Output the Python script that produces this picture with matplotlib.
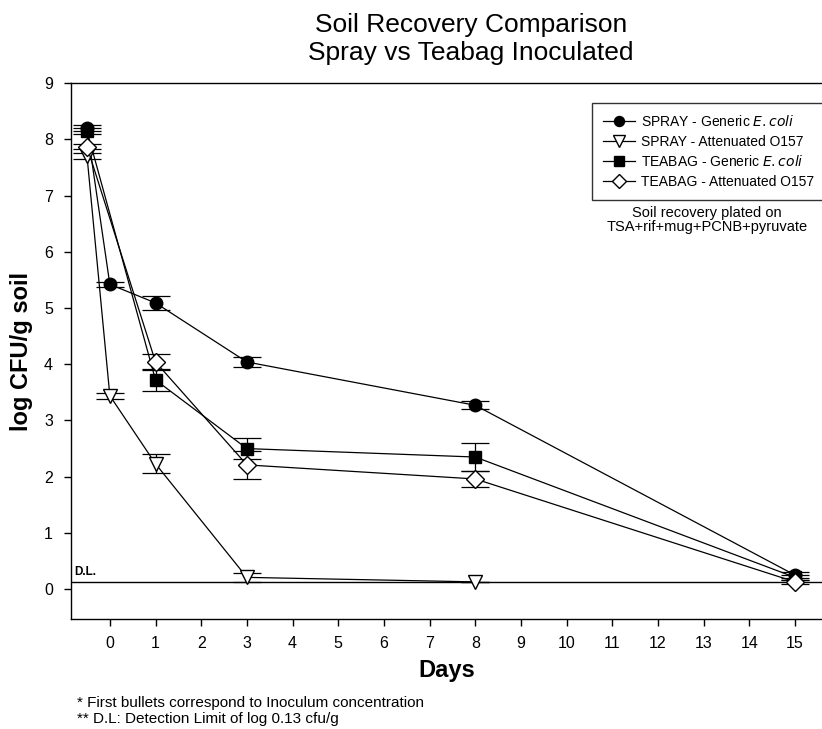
import matplotlib
matplotlib.use("Agg")
import matplotlib.pyplot as plt
from matplotlib.lines import Line2D

plt.rcParams['font.family'] = ['Liberation Sans', 'DejaVu Sans']

# Data
days_sg = [-0.5, 0, 1, 3, 8, 15]
spray_generic = [8.20, 5.42, 5.09, 4.04, 3.27, 0.25]
spray_generic_err = [0.05, 0.04, 0.12, 0.09, 0.07, 0.05]

days_sa = [-0.5, 0, 1, 3, 8]
spray_atten = [7.70, 3.44, 2.23, 0.21, 0.13]
spray_atten_err = [0.05, 0.05, 0.17, 0.08, 0.0]

days_tg = [-0.5, 1, 3, 8, 15]
teabag_generic = [8.15, 3.72, 2.50, 2.35, 0.21]
teabag_generic_err = [0.05, 0.19, 0.19, 0.25, 0.04]

days_ta = [-0.5, 1, 3, 8, 15]
teabag_atten = [7.87, 4.04, 2.21, 1.96, 0.13]
teabag_atten_err = [0.05, 0.14, 0.25, 0.15, 0.04]

detection_limit = 0.13
x_ticks = list(range(0, 16))
y_ticks = list(range(0, 10))

series = [
    (days_sg, spray_generic, spray_generic_err, 'o', 'black', 9, 'SPRAY - Generic $\\it{E. coli}$'),
    (days_sa, spray_atten, spray_atten_err, 'v', 'white', 10, 'SPRAY - Attenuated O157'),
    (days_tg, teabag_generic, teabag_generic_err, 's', 'black', 9, 'TEABAG - Generic $\\it{E. coli}$'),
    (days_ta, teabag_atten, teabag_atten_err, 'D', 'white', 9, 'TEABAG - Attenuated O157'),
]

fig = plt.figure(figsize=(8.22, 7.29), dpi=100)
ax = fig.add_axes([0.0864, 0.1509, 0.9136, 0.7352])
ax.set_xlim(-0.85, 15.59)
ax.set_ylim(-0.53, 9)

ax.axhline(detection_limit, color='black', lw=1.0, zorder=1)

handles = []
for x, y, e, m, fc, ms, lab in series:
    ax.errorbar(x, y, yerr=e, fmt='-', marker=m, color='black', mfc=fc, mec='black',
                ms=ms, lw=0.9, elinewidth=0.9, capsize=10, capthick=0.9, zorder=3)
    handles.append(Line2D([0], [0], color='black', marker=m, mfc=fc, mec='black',
                          ms=ms * 0.8, lw=0.9, label=lab))

ax.text(-0.78, 0.2, 'D.L.', fontsize=8.5, fontweight='bold', ha='left', va='bottom')

ax.set_xticks(x_ticks)
ax.set_yticks(y_ticks)
ax.tick_params(axis='both', direction='out', length=5, width=1, labelsize=11.5)
ax.tick_params(axis='x', pad=7)
ax.tick_params(axis='y', pad=8)
ax.spines['right'].set_visible(False)
for s in ['left', 'top', 'bottom']:
    ax.spines[s].set_linewidth(1.0)

ax.set_xlabel('Days', fontsize=17, fontweight='bold', labelpad=6)
ax.set_ylabel('log CFU/g soil', fontsize=17, fontweight='bold', labelpad=8)

leg = fig.legend(handles=handles, loc='upper left', bbox_to_anchor=(0.7202, 0.8587),
                 borderaxespad=0, fontsize=10, frameon=True, fancybox=False, edgecolor='black',
                 handlelength=2.3, handletextpad=0.4, borderpad=0.8, labelspacing=0.4)
leg.get_frame().set_linewidth(1.0)

fig.text(0.860, 1 - 213 / 729, 'Soil recovery plated on',
         ha='center', va='center', fontsize=10.5)
fig.text(0.860, 1 - 227 / 729, 'TSA+rif+mug+PCNB+pyruvate',
         ha='center', va='center', fontsize=10.5)

fig.text(0.573, 1 - 25 / 729, 'Soil Recovery Comparison', ha='center', va='center', fontsize=19)
fig.text(0.573, 1 - 53 / 729, 'Spray vs Teabag Inoculated', ha='center', va='center', fontsize=19)

fig.text(0.094, 1 - 703 / 729, '* First bullets correspond to Inoculum concentration',
         ha='left', va='center', fontsize=11)
fig.text(0.094, 1 - 719 / 729, '** D.L: Detection Limit of log 0.13 cfu/g',
         ha='left', va='center', fontsize=11)

fig.savefig('out.png', dpi=100)
